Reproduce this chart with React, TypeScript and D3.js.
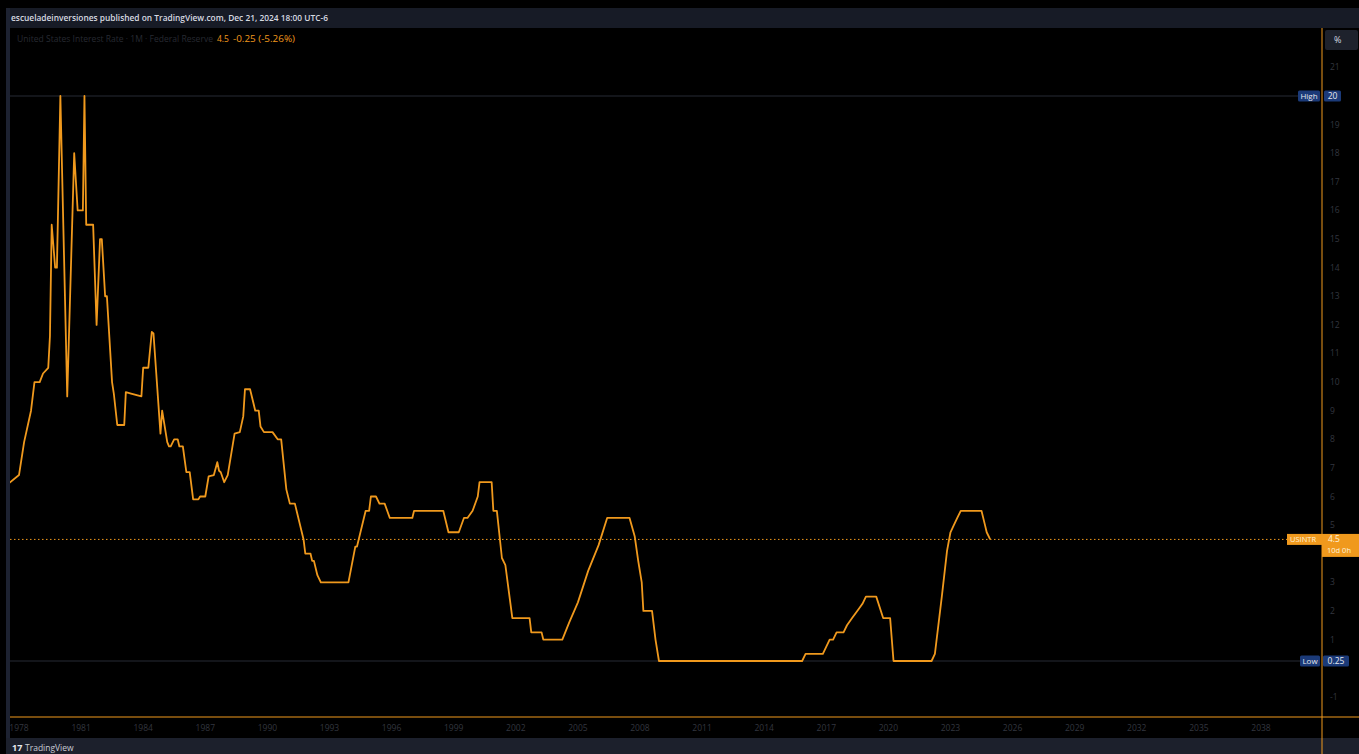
import * as d3 from 'd3'

// USINTR monthly points (month, rate %)
const RATE_MONTHS = [
  '1977-07', '1978-01', '1978-04', '1978-08', '1978-10', '1979-01', '1979-03', '1979-06', '1979-07', '1979-08',
  '1979-10', '1979-11', '1980-01', '1980-05', '1980-09', '1980-11', '1981-02', '1981-03', '1981-04', '1981-08',
  '1981-10', '1981-12', '1982-01', '1982-03', '1982-04', '1982-07', '1982-08', '1982-10', '1983-02', '1983-03',
  '1983-06', '1983-12', '1984-01', '1984-04', '1984-06', '1984-07', '1984-11', '1984-12', '1985-03', '1985-04',
  '1985-05', '1985-07', '1985-09', '1985-10', '1985-12', '1986-02', '1986-04', '1986-06', '1986-09', '1986-10',
  '1987-01', '1987-03', '1987-06', '1987-08', '1987-09', '1987-10', '1987-12', '1988-02', '1988-06', '1988-09',
  '1988-11', '1988-12', '1989-03', '1989-06', '1989-08', '1989-09', '1989-11', '1990-04', '1990-07', '1990-09',
  '1990-12', '1991-02', '1991-05', '1991-10', '1991-11', '1992-02', '1992-03', '1992-04', '1992-06', '1992-08',
  '1993-12', '1994-04', '1994-05', '1994-07', '1994-10', '1994-12', '1995-01', '1995-04', '1995-06', '1995-09',
  '1995-12', '1997-01', '1997-02', '1998-07', '1998-10', '1999-04', '1999-07', '1999-09', '1999-12', '2000-03',
  '2000-04', '2000-11', '2000-12', '2001-02', '2001-05', '2001-07', '2001-11', '2002-09', '2002-10', '2003-04',
  '2003-05', '2004-04', '2004-08', '2005-01', '2005-07', '2006-01', '2006-06', '2007-07', '2007-10', '2007-12',
  '2008-02', '2008-03', '2008-08', '2008-10', '2008-12', '2015-11', '2016-01', '2016-11', '2017-01', '2017-03',
  '2017-05', '2017-07', '2017-11', '2018-01', '2018-04', '2018-07', '2018-10', '2018-12', '2019-06', '2019-10',
  '2020-02', '2020-04', '2022-02', '2022-04', '2022-08', '2022-11', '2023-01', '2023-03', '2023-05', '2023-07',
  '2024-07', '2024-09', '2024-10', '2024-12'
]
const RATE_VALUES = [
  6.45, 6.75, 7.9, 9.0, 10.0, 10.0, 10.3, 10.5, 11.6, 15.5,
  14.0, 14.0, 20.0, 9.5, 18.0, 16.0, 16.0, 20.0, 15.5, 15.5,
  12.0, 15.0, 15.0, 13.0, 13.0, 10.0, 9.6, 8.5, 8.5, 9.65,
  9.6, 9.5, 10.5, 10.5, 11.75, 11.7, 8.2, 9.0, 7.9, 7.75,
  7.75, 8.0, 8.0, 7.75, 7.75, 6.85, 6.85, 5.9, 5.9, 6.0,
  6.0, 6.7, 6.75, 7.2, 6.9, 6.85, 6.5, 6.75, 8.2, 8.25,
  8.8, 9.75, 9.75, 9.0, 9.0, 8.45, 8.25, 8.25, 8.0, 8.0,
  6.25, 5.75, 5.75, 4.5, 4.0, 4.0, 3.75, 3.75, 3.25, 3.0,
  3.0, 4.25, 4.25, 4.75, 5.5, 5.5, 6.0, 6.0, 5.75, 5.75,
  5.25, 5.25, 5.5, 5.5, 4.75, 4.75, 5.25, 5.25, 5.5, 6.0,
  6.5, 6.5, 5.5, 5.5, 3.85, 3.6, 1.75, 1.75, 1.25, 1.25,
  1.0, 1.0, 1.6, 2.3, 3.4, 4.3, 5.25, 5.25, 4.6, 3.75,
  3.0, 2.0, 2.0, 1.0, 0.25, 0.25, 0.5, 0.5, 0.75, 1.0,
  1.0, 1.25, 1.25, 1.5, 1.75, 2.0, 2.25, 2.5, 2.5, 1.75,
  1.75, 0.25, 0.25, 0.5, 2.5, 4.1, 4.75, 5.0, 5.25, 5.5,
  5.5, 5.0, 4.75, 4.5
]

const YEAR_TICKS = [1978, 1981, 1984, 1987, 1990, 1993, 1996, 1999, 2002, 2005, 2008, 2011, 2014, 2017, 2020, 2023, 2026, 2029, 2032, 2035, 2038]
// 20, 4 and 0 sit under the High / last value / Low tags
const PRICE_TICKS = [21, 19, 18, 17, 16, 15, 14, 13, 12, 11, 10, 9, 8, 7, 6, 5, 3, 2, 1, -1]

const LAST = 4.5
const HIGH = 20
const LOW = 0.25

const W = 1359
const H = 754
const PL = 10
const PR = 1322
const PT = 28
const PB = 717

const ORANGE = '#f0991d'
const DIM = '#33363f'
const FONT = '"Open Sans", "DejaVu Sans", sans-serif'

export default function App() {
  const parse = d3.timeParse('%Y-%m')
  const data = RATE_MONTHS.map((m, i) => ({ date: parse(m) as Date, value: RATE_VALUES[i] }))

  const x = d3.scaleTime().domain([new Date(1978, 0, 1), new Date(2038, 0, 1)]).range([19, 1261])
  const y = d3.scaleLinear().domain([LOW, HIGH]).range([661, 96])

  const line = d3
    .line<{ date: Date; value: number }>()
    .x((d) => x(d.date))
    .y((d) => y(d.value))

  const yLast = y(LAST)

  return (
    <div style={{ position: 'fixed', left: 0, top: 0, width: W, height: H, background: '#000' }}>
      <svg width={W} height={H} style={{ display: 'block', fontFamily: FONT }}>
        <defs>
          <clipPath id="plot">
            <rect x={PL} y={PT} width={PR - PL} height={PB - PT} />
          </clipPath>
          <clipPath id="xaxis">
            <rect x={PL} y={PB} width={PR - PL} height={20} />
          </clipPath>
        </defs>
        <rect width={W} height={H} fill="#000" />

        {/* frame */}
        <rect x={6} y={8} width={W - 6} height={20} fill="#171b26" />
        <rect x={6} y={8} width={4} height={H - 8} fill="#1d2231" />
        <rect x={6} y={738} width={W - 6} height={H - 738} fill="#1c202c" />

        <text x={11} y={21} fill="#d6d9e0" fontSize={8.5} fontWeight={600} textLength={317} lengthAdjust="spacingAndGlyphs">
          escueladeinversiones published on TradingView.com, Dec 21, 2024 18:00 UTC-6
        </text>

        {/* legend */}
        <text x={17} y={42} fill="#272a32" fontSize={8.5} textLength={196} lengthAdjust="spacingAndGlyphs">
          United States Interest Rate · 1M · Federal Reserve
        </text>
        <text x={217} y={42} fill={ORANGE} fontSize={8.5}>
          4.5
        </text>
        <text x={233} y={42} fill={ORANGE} fontSize={8.5} textLength={62} lengthAdjust="spacingAndGlyphs">
          -0.25 (-5.26%)
        </text>

        {/* high / low lines */}
        <line x1={PL} x2={1298} y1={y(HIGH)} y2={y(HIGH)} stroke="#272b35" strokeWidth={1} />
        <line x1={PL} x2={1300} y1={y(LOW)} y2={y(LOW)} stroke="#272b35" strokeWidth={1} />

        {/* last value dotted line */}
        <line x1={PL} x2={1287} y1={yLast} y2={yLast} stroke={ORANGE} strokeWidth={1} strokeDasharray="1.5,2.5" />

        {/* series */}
        <path
          d={line(data) || ''}
          fill="none"
          stroke={ORANGE}
          strokeWidth={1.8}
          strokeLinejoin="round"
          clipPath="url(#plot)"
        />

        {/* axes borders */}
        <line x1={PL} x2={W} y1={PB} y2={PB} stroke={ORANGE} strokeWidth={1} />
        <line x1={PR} x2={PR} y1={PT} y2={H} stroke={ORANGE} strokeWidth={1} />

        {/* x axis labels */}
        <g clipPath="url(#xaxis)">
          {YEAR_TICKS.map((yr) => (
            <text key={yr} x={x(new Date(yr, 0, 1))} y={731} fill={DIM} fontSize={8.5} textAnchor="middle">
              {yr}
            </text>
          ))}
        </g>

        {/* price axis labels */}
        {PRICE_TICKS.map((v) => (
          <text key={v} x={1330} y={y(v) + 3} fill={DIM} fontSize={8.5}>
            {v}
          </text>
        ))}

        {/* % button */}
        <rect x={1325} y={30} width={33} height={20} rx={2} fill="#1e222c" />
        <text x={1334} y={43} fill="#d6d9e0" fontSize={9}>
          %
        </text>

        {/* High label */}
        <rect x={1298} y={y(HIGH) - 5.5} width={22} height={11} rx={1.5} fill="#1b3a78" />
        <text x={1309} y={y(HIGH) + 3} fill="#e6e8ee" fontSize={8} textAnchor="middle">
          High
        </text>
        <rect x={1324} y={y(HIGH) - 5.5} width={17} height={11} rx={1.5} fill="#1b3a78" />
        <text x={1332.5} y={y(HIGH) + 3} fill="#e6e8ee" fontSize={8.5} textAnchor="middle">
          20
        </text>

        {/* Low label */}
        <rect x={1300} y={y(LOW) - 5.5} width={20} height={11} rx={1.5} fill="#1b3a78" />
        <text x={1310} y={y(LOW) + 3} fill="#e6e8ee" fontSize={8} textAnchor="middle">
          Low
        </text>
        <rect x={1323} y={y(LOW) - 5.5} width={26} height={11} rx={1.5} fill="#1b3a78" />
        <text x={1336} y={y(LOW) + 3} fill="#e6e8ee" fontSize={8.5} textAnchor="middle">
          0.25
        </text>

        {/* last value label */}
        <rect x={1287} y={yLast - 5.5} width={35} height={11} fill={ORANGE} />
        <text x={1290} y={yLast + 3} fill="#fff3dc" fontSize={8} textLength={26} lengthAdjust="spacingAndGlyphs">
          USINTR
        </text>
        <rect x={1322} y={yLast - 5.5} width={W - 1322} height={23} fill={ORANGE} />
        <text x={1328} y={yLast + 3} fill="#fff3dc" fontSize={8.5}>
          4.5
        </text>
        <text x={1327} y={yLast + 14} fill="#fff3dc" fontSize={7.5}>
          10d 0h
        </text>

        {/* footer logo */}
        <text x={12} y={751} fill="#e6e8ee" fontSize={9} fontWeight={700}>
          17
        </text>
        <text x={25} y={751} fill="#c9ccd4" fontSize={8.5}>
          TradingView
        </text>
      </svg>
    </div>
  )
}
